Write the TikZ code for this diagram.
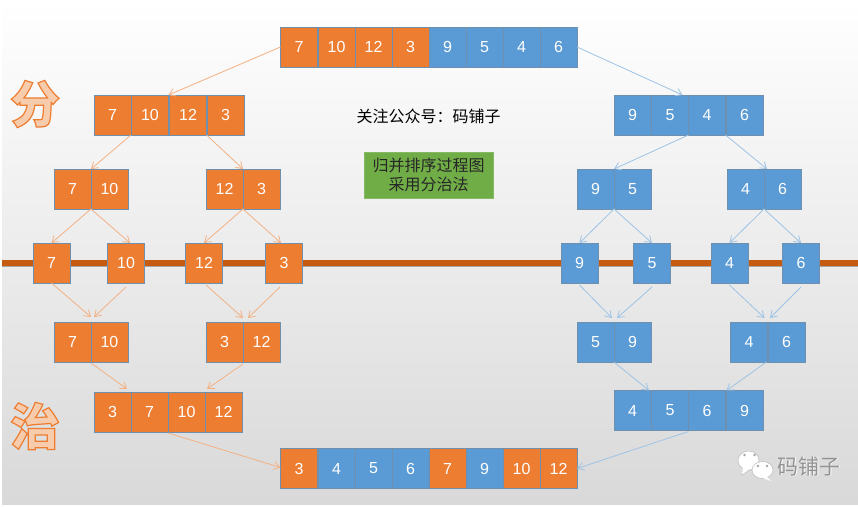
\documentclass[tikz,border=0pt]{standalone}
\usepackage{fontspec}
\setmainfont{Liberation Sans}
\newfontfamily\cjk{Noto Sans CJK SC}
\usetikzlibrary{arrows.meta}
\definecolor{orangec}{HTML}{ED7D31}
\definecolor{bluec}{HTML}{5B9BD5}
\definecolor{greenc}{HTML}{70AD47}
\definecolor{barc}{HTML}{C55A11}
\definecolor{orangel}{HTML}{F4B183}
\definecolor{bluel}{HTML}{9DC3E6}
\definecolor{framec}{HTML}{6F8FAF}
\tikzset{
  cell/.style={draw=framec, line width=.7pt, fill=#1, text=white, minimum width=37pt, minimum height=40pt,
    inner sep=0pt, outer sep=0pt, font=\fontsize{16}{18}\selectfont},
  cell/.default=orangec,
  arro/.style={-{Straight Barb[length=6pt,width=8pt]}, orangel, line width=.8pt},
  arrb/.style={-{Straight Barb[length=6pt,width=8pt]}, bluel, line width=.8pt},
  bigch/.style={inner sep=0pt, font=\cjk\bfseries\fontsize{50}{52}\selectfont},
  bubble/.style={fill=white, draw=gray!55, line width=.5pt},
}
\newcommand{\outlined}[1]{\special{pdf:code q 2 Tr 1.2 w 0.93 0.49 0.19 RG 0.97 0.80 0.68 rg}#1\special{pdf:code Q}}
\begin{document}
\begin{tikzpicture}[x=1pt, y=-1pt, >=latex]
  \useasboundingbox (0,0) rectangle (858,506);
  \fill[white] (0,0) rectangle (858,506);
  \shade[top color=white, middle color=white!95!black, bottom color=white!85!black] (2,0) rectangle (858,504);
  \fill[gray!70] (2,265.5) rectangle (858,266.5);
  \fill[barc] (2,260) rectangle (858,266);
  % divide
  \foreach \n/\x/\t/\c in {a1/299/7/orangec, a2/336.5/10/orangec, a3/373.5/12/orangec, a4/410.5/3/orangec,
    a5/447.5/9/bluec, a6/484.5/5/bluec, a7/521.5/4/bluec, a8/558.5/6/bluec}
    \node[cell=\c] (\n) at (\x,47) {\t};
  \foreach \n/\x/\t in {bl1/112.5/7, bl2/150/10, bl3/188/12, bl4/225.5/3}
    \node[cell] (\n) at (\x,115) {\t};
  \foreach \n/\x/\t in {br1/632.5/9, br2/670/5, br3/707/4, br4/744.5/6}
    \node[cell=bluec] (\n) at (\x,115) {\t};
  \foreach \n/\x/\t in {cl1/72.5/7, cl2/109.5/10, cl3/224.5/12, cl4/261.5/3}
    \node[cell] (\n) at (\x,189) {\t};
  \foreach \n/\x/\t in {cr1/595.5/9, cr2/632.5/5, cr3/745.5/4, cr4/782.5/6}
    \node[cell=bluec] (\n) at (\x,189) {\t};
  \foreach \n/\x/\t in {d1/51.5/7, d2/126/10, d3/204/12, d4/284/3}
    \node[cell] (\n) at (\x,263) {\t};
  \foreach \n/\x/\t in {d5/579.5/9, d6/652/5, d7/729.5/4, d8/801/6}
    \node[cell=bluec] (\n) at (\x,263) {\t};
  % conquer
  \foreach \n/\x/\t in {el1/72.5/7, el2/109.5/10, el3/224.5/3, el4/261.5/12}
    \node[cell] (\n) at (\x,342) {\t};
  \foreach \n/\x/\t in {er1/595.5/5, er2/632.5/9, er3/749/4, er4/786.5/6}
    \node[cell=bluec] (\n) at (\x,342) {\t};
  \foreach \n/\x/\t in {fl1/112.5/3, fl2/149.5/7, fl3/186.5/10, fl4/223.5/12}
    \node[cell] (\n) at (\x,412) {\t};
  \foreach \n/\x/\t in {fr1/632.5/4, fr2/670/5, fr3/707/6, fr4/744.5/9}
    \node[cell=bluec] (\n) at (\x,410.5) {\t};
  \foreach \n/\x/\t/\c in {g1/299/3/orangec, g2/336.5/4/bluec, g3/373.5/5/bluec, g4/410.5/6/bluec,
    g5/447.5/7/orangec, g6/484.5/9/bluec, g7/521.5/10/orangec, g8/558.5/12/orangec}
    \node[cell=\c] (\n) at (\x,468.5) {\t};
  % arrows, left half
  \draw[arro] (a1.west) -- (bl2.north east);
  \draw[arro] (bl1.south east) -- (cl1.north east);
  \draw[arro] (bl3.south east) -- (cl3.north east);
  \draw[arro] (cl1.south east) -- (d1.north);
  \draw[arro] (cl1.south east) -- ([xshift=4pt]d2.north);
  \draw[arro] (cl3.south east) -- (d3.north);
  \draw[arro] (cl3.south east) -- ([xshift=-3pt]d4.north);
  \draw[arro] (d1.south) -- ([yshift=5pt]el1.north east);
  \draw[arro] ([yshift=-4pt]d2.south) -- ([xshift=3pt,yshift=5pt]el2.north west);
  \draw[arro] ([xshift=2pt,yshift=-2pt]d3.south) -- ([yshift=4pt]el3.north east);
  \draw[arro] ([xshift=-4pt,yshift=-4pt]d4.south) -- ([xshift=5pt,yshift=4pt]el4.north west);
  \draw[arro] ([yshift=-1pt]el1.south east) -- ([xshift=-4pt,yshift=3pt]fl1.north east);
  \draw[arro] ([yshift=-2pt]el3.south east) -- ([xshift=2pt,yshift=3pt]fl3.north east);
  \draw[arro] ([yshift=-1pt]fl2.south east) -- ([yshift=1pt]g1.west);
  % arrows, right half
  \draw[arrb] (a8.east) -- ([xshift=-6pt]br2.north east);
  \draw[arrb] (br2.south east) -- (cr1.north east);
  \draw[arrb] (br3.south east) -- ([xshift=3pt]cr4.north west);
  \draw[arrb] (cr1.south east) -- (d5.north);
  \draw[arrb] (cr1.south east) -- (d6.north);
  \draw[arrb] (cr3.south east) -- (d7.north);
  \draw[arrb] (cr3.south east) -- (d8.north);
  \draw[arrb] ([yshift=-2pt]d5.south) -- ([xshift=-2pt,yshift=4pt]er1.north east);
  \draw[arrb] ([yshift=-4pt]d6.south) -- ([xshift=3pt,yshift=4pt]er2.north west);
  \draw[arrb] ([yshift=-2pt]d7.south) -- ([xshift=-3pt,yshift=4pt]er3.north east);
  \draw[arrb] ([yshift=-4pt]d8.south) -- ([xshift=2pt,yshift=4pt]er4.north west);
  \draw[arrb] (er1.south east) -- ([xshift=-2pt]fr1.north east);
  \draw[arrb] ([xshift=-1pt]er3.south east) -- ([xshift=1pt]fr3.north east);
  \draw[arrb] ([yshift=-1pt]fr2.south east) -- (g8.east);
  % texts
  \node[font=\cjk\fontsize{16}{18}\selectfont, inner sep=0pt] (title) at (428.5,116) {关注公众号：码铺子};
  \node[fill=greenc, draw=greenc!85!white, text=black!85, align=center, font=\cjk\fontsize{16}{19}\selectfont,
    minimum width=129pt, minimum height=46pt, inner sep=0pt] (note) at (428.5,175) {归并排序过程图\\采用分治法};
  \node[bigch] (fen) at (35,104) {\outlined{分}};
  \node[bigch] (zhi) at (35,426) {\outlined{治}};
  % wechat mark
  \draw[bubble] (743,467) -- (742,475) -- (751,469);
  \filldraw[bubble] (748.5,460.5) ellipse (10.5 and 9.5);
  \fill[white] (743,466) -- (742,474) -- (751,468) -- cycle;
  \filldraw[bubble] (762.5,470) ellipse (10.5 and 8.5);
  \fill[bubble, draw=none] (766,476) -- (771,481) -- (760,477) -- cycle;
  \foreach \x/\y in {744.5/455, 754.5/455, 758/466, 767/466}
    \fill[gray!70] (\x,\y) circle (1.3);
  \node[font=\cjk\fontsize{21}{23}\selectfont, text=white, inner sep=0pt] at (809.7,467) {码铺子};
  \node[font=\cjk\fontsize{21}{23}\selectfont, text=gray!85, inner sep=0pt] (mark) at (809,466.3) {码铺子};
\end{tikzpicture}
\end{document}
